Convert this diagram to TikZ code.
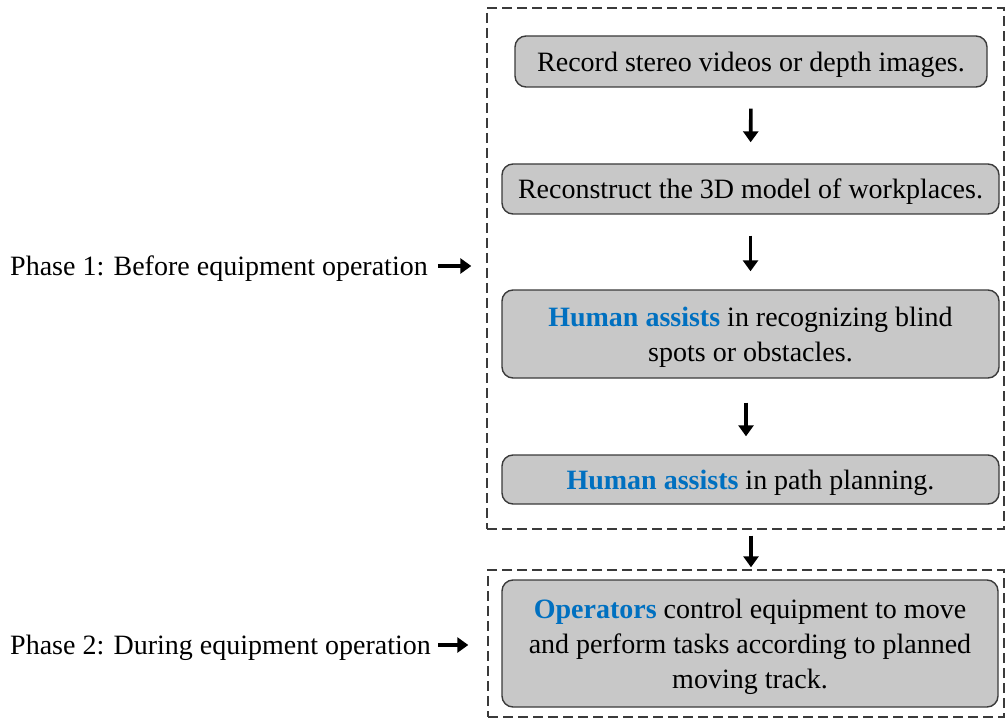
\documentclass[tikz,border=0pt]{standalone}
\usepackage{fontspec}
\setmainfont{Liberation Serif}
\usetikzlibrary{arrows.meta}
\definecolor{stepfill}{HTML}{C8C8C8}
\definecolor{stepline}{HTML}{3A3A3A}
\definecolor{keyblue}{HTML}{0070C0}
\newcommand{\keyword}[1]{\textcolor{keyblue}{\textbf{#1}}}
\tikzset{
  stepbox/.style={draw=stepline, fill=stepfill, line width=1.4pt, rounded corners=11pt,
    align=center, inner sep=0pt, text depth=0pt, font=\fontsize{28}{35}\selectfont},
  phaseframe/.style={draw=stepline, line width=1.4pt, dash pattern=on 10pt off 5pt, inner sep=0pt},
  phaselabel/.style={inner sep=0pt, anchor=west, text depth=0pt, font=\fontsize{28}{35}\selectfont},
  flow/.style={line width=3.6pt, -{Triangle[length=11pt,width=15pt]}}
}
\begin{document}
\begin{tikzpicture}[x=1pt, y=-1pt]
\useasboundingbox (0,0) rectangle (1006,719);

% dashed frames of the two phases
\node[phaseframe, minimum width=517pt, minimum height=521pt] (ph1) at (745.5,268.5) {};
\node[phaseframe, minimum width=516pt, minimum height=147pt] (ph2) at (746,643.5) {};

% steps
\node[stepbox, minimum width=472pt, minimum height=51pt] (b1) at (751,61.5)
  {Record stereo videos or depth images.};
\node[stepbox, minimum width=497pt, minimum height=50pt] (b2) at (750.5,189)
  {Reconstruct the 3D model of workplaces.};
\node[stepbox, minimum width=497pt, minimum height=88pt] (b3) at (750.5,334)
  {\keyword{Human assists} in recognizing blind\\spots or obstacles.};
\node[stepbox, minimum width=497pt, minimum height=49pt] (b4) at (750.5,479.5)
  {\keyword{Human assists} in path planning.};
\node[stepbox, minimum width=496pt, minimum height=127pt] (b5) at (750,643.5)
  {\keyword{Operators} control equipment to move\\and perform tasks according to planned\\moving track.};

% phase labels
\node[phaselabel] (l1) at (10,266) {Phase 1: Before equipment operation};
\node[phaselabel] (l2) at (10,645) {Phase 2: During equipment operation};

% connectors
\draw[flow, shorten <=21pt, shorten >=21pt] (b1.south) -- (b2.north);
\draw[flow, shorten <=21pt, shorten >=18pt] (b2.south) -- (b3.north);
\draw[flow, shorten <=24pt, shorten >=18pt] ([xshift=-4.5pt]b3.south) -- ([xshift=-4.5pt]b4.north);
\draw[flow, shorten <=6pt, shorten >=2pt] ([xshift=5.5pt]ph1.south) -- ([xshift=5pt]ph2.north);
\draw[flow, shorten <=10pt, shorten >=15pt] (l1.east) -- (l1.east -| ph1.west);
\draw[flow, shorten <=7pt, shorten >=19pt] (l2.east) -- (l2.east -| ph2.west);
\end{tikzpicture}
\end{document}
